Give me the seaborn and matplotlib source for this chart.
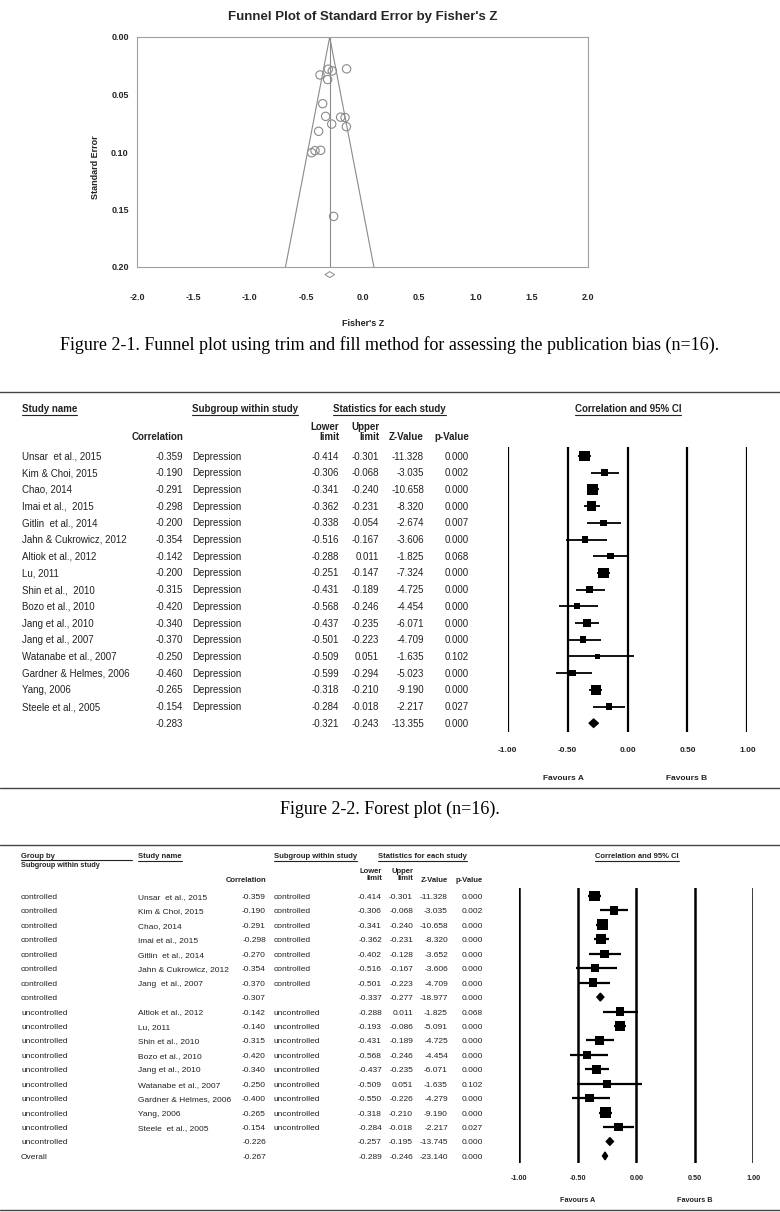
import numpy as np
import pandas as pd
import matplotlib
matplotlib.use('Agg')
import matplotlib.pyplot as plt
from matplotlib.lines import Line2D
import seaborn as sns

# ---------- данные: funnel plot ----------
fisher_z = [-0.303, -0.268, -0.141, -0.377, -0.309, -0.353, -0.327, -0.194,
            -0.155, -0.273, -0.143, -0.389, -0.421, -0.451, -0.371, -0.256]
std_err = [0.028, 0.0295, 0.0277, 0.033, 0.037, 0.058, 0.069, 0.0697,
           0.070, 0.0757, 0.078, 0.082, 0.0988, 0.1006, 0.0985, 0.156]
est_z = -0.291
est_z_lo = -0.333
est_z_hi = -0.248
se_max = 0.20

# ---------- данные: forest plot (n=16) ----------
studies = ["Unsar  et al., 2015", "Kim & Choi, 2015", "Chao, 2014", "Imai et al.,  2015",
           "Gitlin  et al., 2014", "Jahn & Cukrowicz, 2012", "Altiok et al., 2012", "Lu, 2011",
           "Shin et al.,  2010", "Bozo et al., 2010", "Jang et al., 2010", "Jang et al., 2007",
           "Watanabe et al., 2007", "Gardner & Helmes, 2006", "Yang, 2006", "Steele et al., 2005"]
corr = [-0.359, -0.190, -0.291, -0.298, -0.200, -0.354, -0.142, -0.200,
        -0.315, -0.420, -0.340, -0.370, -0.250, -0.460, -0.265, -0.154]
lower = [-0.414, -0.306, -0.341, -0.362, -0.338, -0.516, -0.288, -0.251,
         -0.431, -0.568, -0.437, -0.501, -0.509, -0.599, -0.318, -0.284]
upper = [-0.301, -0.068, -0.240, -0.231, -0.054, -0.167, 0.011, -0.147,
         -0.189, -0.246, -0.235, -0.223, 0.051, -0.294, -0.210, -0.018]
zval = [-11.328, -3.035, -10.658, -8.320, -2.674, -3.606, -1.825, -7.324,
        -4.725, -4.454, -6.071, -4.709, -1.635, -5.023, -9.190, -2.217]
pval = [0.000, 0.002, 0.000, 0.000, 0.007, 0.000, 0.068, 0.000,
        0.000, 0.000, 0.000, 0.000, 0.102, 0.000, 0.000, 0.027]
summ = dict(corr=-0.283, lower=-0.321, upper=-0.243, z=-13.355, p=0.000)

# ---------- данные: forest plot по подгруппам ----------
g_group = ['controlled'] * 8 + ['uncontrolled'] * 10 + ['Overall']
g_study = ["Unsar  et al., 2015", "Kim & Choi, 2015", "Chao, 2014", "Imai et al., 2015",
           "Gitlin  et al., 2014", "Jahn & Cukrowicz, 2012", "Jang  et al., 2007", "",
           "Altiok et al., 2012", "Lu, 2011", "Shin et al., 2010", "Bozo et al., 2010",
           "Jang et al., 2010", "Watanabe et al., 2007", "Gardner & Helmes, 2006",
           "Yang, 2006", "Steele  et al., 2005", "", ""]
g_sub = ['controlled'] * 7 + [''] + ['uncontrolled'] * 9 + ['', '']
g_corr = [-0.359, -0.190, -0.291, -0.298, -0.270, -0.354, -0.370, -0.307,
          -0.142, -0.140, -0.315, -0.420, -0.340, -0.250, -0.400, -0.265, -0.154, -0.226, -0.267]
g_lower = [-0.414, -0.306, -0.341, -0.362, -0.402, -0.516, -0.501, -0.337,
           -0.288, -0.193, -0.431, -0.568, -0.437, -0.509, -0.550, -0.318, -0.284, -0.257, -0.289]
g_upper = [-0.301, -0.068, -0.240, -0.231, -0.128, -0.167, -0.223, -0.277,
           0.011, -0.086, -0.189, -0.246, -0.235, 0.051, -0.226, -0.210, -0.018, -0.195, -0.246]
g_z = [-11.328, -3.035, -10.658, -8.320, -3.652, -3.606, -4.709, -18.977,
       -1.825, -5.091, -4.725, -4.454, -6.071, -1.635, -4.279, -9.190, -2.217, -13.745, -23.140]
g_p = [0.000, 0.002, 0.000, 0.000, 0.000, 0.000, 0.000, 0.000,
       0.068, 0.000, 0.000, 0.000, 0.000, 0.102, 0.000, 0.000, 0.027, 0.000, 0.000]

ci_ticks = [-1.0, -0.5, 0.0, 0.5, 1.0]

# ---------- оформление ----------
sns.set_style('white')
plt.rcParams['font.family'] = ['Liberation Sans', 'DejaVu Sans']
TXT = '#222222'
SERIF = ['Liberation Serif', 'DejaVu Serif']

W, H = 780, 1212
fig = plt.figure(figsize=(W / 100, H / 100), dpi=100)


def fx(x):
    return x / W


def fy(y):
    return 1 - y / H


def add_ax(l, t, r, b):
    return fig.add_axes([fx(l), fy(b), (r - l) / W, (b - t) / H])


def txt(x, y, s, **kw):
    # по умолчанию: y — середина заглавных букв (выравнивание по базовой линии)
    kw.setdefault('color', TXT)
    if 'va' not in kw:
        fs = kw.get('fontsize', 10)
        y = y + 0.36 * fs * 100 / 72
        kw['va'] = 'baseline'
    return fig.text(fx(x), fy(y), s, **kw)


def rule(y, x0=0, x1=W, lw=1.0, color='#444444'):
    fig.add_artist(Line2D([fx(x0), fx(x1)], [fy(y), fy(y)],
                          transform=fig.transFigure, color=color, lw=lw))


def underline(t, dy=1.5, lw=0.8):
    bb = t.get_window_extent(renderer=fig.canvas.get_renderer())
    y = bb.y0 - dy
    fig.add_artist(Line2D([bb.x0 / W, bb.x1 / W], [y / H, y / H],
                          transform=fig.transFigure, color=TXT, lw=lw))


# ================= 1. Funnel plot =================
ax = add_ax(137, 37, 588, 267)
sns.scatterplot(x=fisher_z, y=std_err, ax=ax, marker='o', s=36,
                facecolor='none', edgecolor='#8a8a8a', linewidth=0.8, legend=False)
ax.plot([est_z - 1.96 * se_max, est_z, est_z + 1.96 * se_max], [se_max, 0, se_max],
        color='#8a8a8a', lw=0.8)
ax.plot([est_z, est_z], [0, se_max], color='#8a8a8a', lw=0.8)
ax.fill([est_z_lo, est_z, est_z_hi, est_z], [0.2066, 0.2040, 0.2066, 0.2092],
        facecolor='white', edgecolor='#8a8a8a', lw=0.7, clip_on=False)
ax.set_xlim(-2, 2)
ax.set_ylim(se_max, 0)
xt = np.arange(-2, 2.01, 0.5)
ax.set_xticks(xt)
ax.set_xticklabels([f'{v:.1f}' for v in xt], fontsize=6.5, fontweight='bold')
yt = [0.0, 0.05, 0.10, 0.15, 0.20]
ax.set_yticks(yt)
ax.set_yticklabels([f'{v:.2f}' for v in yt], fontsize=6.5, fontweight='bold')
ax.tick_params(axis='x', direction='in', length=3, color='#999999', pad=19)
ax.tick_params(axis='y', length=0, pad=6)
for sp in ax.spines.values():
    sp.set_color('#a0a0a0')
    sp.set_linewidth(0.8)
ax.set_title("Funnel Plot of Standard Error by Fisher's Z", fontsize=9.5, fontweight='bold',
             family=['Liberation Sans Narrow', 'Liberation Sans'], pad=12)
txt(363, 323, "Fisher's Z", ha='center', va='center', fontsize=6.5, fontweight='bold')
txt(96, 167, 'Standard Error', ha='center', va='center', rotation=90, fontsize=6.5,
    fontweight='bold')

txt(390, 345, 'Figure 2-1. Funnel plot using trim and fill method for assessing the publication bias (n=16).',
    ha='center', va='center', fontsize=13, family=SERIF, color='black')

rule(392)

# ================= 2. Forest plot =================
fs2 = 7
underline(txt(22, 408, 'Study name', fontsize=fs2, fontweight='bold'))
underline(txt(192, 408, 'Subgroup within study', fontsize=fs2, fontweight='bold'))
underline(txt(333, 408, 'Statistics for each study', fontsize=fs2, fontweight='bold'))
underline(txt(628, 408, 'Correlation and 95% CI', ha='center', fontsize=fs2, fontweight='bold'))
txt(183, 437, 'Correlation', ha='right', fontsize=fs2, fontweight='bold')
txt(339, 432, 'Lower\nlimit', ha='right', va='center', fontsize=fs2, fontweight='bold',
    linespacing=1.0)
txt(379, 432, 'Upper\nlimit', ha='right', va='center', fontsize=fs2, fontweight='bold',
    linespacing=1.0)
txt(424, 437, 'Z-Value', ha='right', fontsize=fs2, fontweight='bold')
txt(469, 437, 'p-Value', ha='right', fontsize=fs2, fontweight='bold')

row0, dr = 456, 16.7
rows = np.arange(len(studies))
for i in rows:
    y = row0 + dr * i
    txt(22, y, studies[i], fontsize=fs2)
    txt(183, y, f'{corr[i]:.3f}', ha='right', fontsize=fs2)
    txt(192, y, 'Depression', fontsize=fs2)
    txt(339, y, f'{lower[i]:.3f}', ha='right', fontsize=fs2)
    txt(379, y, f'{upper[i]:.3f}', ha='right', fontsize=fs2)
    txt(424, y, f'{zval[i]:.3f}', ha='right', fontsize=fs2)
    txt(469, y, f'{pval[i]:.3f}', ha='right', fontsize=fs2)
ys = row0 + dr * len(studies)
txt(183, ys, f"{summ['corr']:.3f}", ha='right', fontsize=fs2)
txt(339, ys, f"{summ['lower']:.3f}", ha='right', fontsize=fs2)
txt(379, ys, f"{summ['upper']:.3f}", ha='right', fontsize=fs2)
txt(424, ys, f"{summ['z']:.3f}", ha='right', fontsize=fs2)
txt(469, ys, f"{summ['p']:.3f}", ha='right', fontsize=fs2)

ax2 = add_ax(507.7, 447, 747.3, 732)
top2 = (447 - row0) / dr
bot2 = (732 - row0) / dr
for v in ci_ticks:
    ax2.axvline(v, color='black', lw=1.6)
width2 = np.array(upper) - np.array(lower)
side2 = (4 + 0.7 / width2) * 0.72
ax2.hlines(rows, lower, upper, color='black', lw=1.3)
sns.scatterplot(x=corr, y=rows, ax=ax2, marker='s', s=side2 ** 2, color='black',
                edgecolor='black', linewidth=0, legend=False)
n2 = len(studies)
ax2.fill([summ['lower'], summ['corr'], summ['upper'], summ['corr']],
         [n2, n2 - 0.25, n2, n2 + 0.25], color='black')
ax2.set_xlim(-1, 1)
ax2.set_ylim(bot2, top2)
ax2.set_yticks([])
ax2.set_xticks(ci_ticks)
ax2.set_xticklabels([f'{v:.2f}' for v in ci_ticks], fontsize=6, fontweight='bold', color=TXT)
ax2.tick_params(axis='x', length=0, pad=11)
sns.despine(ax=ax2, left=True, bottom=True)
txt(563, 778, 'Favours A', ha='center', va='center', fontsize=6, fontweight='bold')
txt(687, 778, 'Favours B', ha='center', va='center', fontsize=6, fontweight='bold')

rule(788)
txt(390, 809, 'Figure 2-2. Forest plot (n=16).', ha='center', va='center', fontsize=13,
    family=SERIF, color='black')
rule(845)

# ================= 3. Forest plot по подгруппам =================
fs3 = 5.5
fb3 = 6.0
txt(21, 855, 'Group by', fontsize=fs3, fontweight='bold')
rule(859.5, 21, 132, lw=0.8, color=TXT)
txt(21, 864, 'Subgroup within study', fontsize=5.2, fontweight='bold')
underline(txt(138, 855, 'Study name', fontsize=fs3, fontweight='bold'))
underline(txt(274, 855, 'Subgroup within study', fontsize=fs3, fontweight='bold'))
underline(txt(378, 855, 'Statistics for each study', fontsize=fs3, fontweight='bold'))
underline(txt(637, 855, 'Correlation and 95% CI', ha='center', fontsize=fs3, fontweight='bold'))
txt(266, 879, 'Correlation', ha='right', fontsize=fs3, fontweight='bold')
txt(382, 875, 'Lower\nlimit', ha='right', va='center', fontsize=fs3, fontweight='bold',
    linespacing=1.0)
txt(413, 875, 'Upper\nlimit', ha='right', va='center', fontsize=fs3, fontweight='bold',
    linespacing=1.0)
txt(448, 879, 'Z-Value', ha='right', fontsize=fs3, fontweight='bold')
txt(483, 879, 'p-Value', ha='right', fontsize=fs3, fontweight='bold')

grow0, gdr = 896, 14.44
grows = np.arange(len(g_group))
for i in grows:
    y = grow0 + gdr * i
    txt(21, y, g_group[i], fontsize=fb3)
    txt(138, y, g_study[i], fontsize=fb3)
    txt(266, y, f'{g_corr[i]:.3f}', ha='right', fontsize=fb3)
    txt(274, y, g_sub[i], fontsize=fb3)
    txt(382, y, f'{g_lower[i]:.3f}', ha='right', fontsize=fb3)
    txt(413, y, f'{g_upper[i]:.3f}', ha='right', fontsize=fb3)
    txt(448, y, f'{g_z[i]:.3f}', ha='right', fontsize=fb3)
    txt(483, y, f'{g_p[i]:.3f}', ha='right', fontsize=fb3)

ax3 = add_ax(519.3, 888, 753.3, 1163)
top3 = (888 - grow0) / gdr
bot3 = (1163 - grow0) / gdr
for v in ci_ticks:
    ax3.axvline(v, color='black', lw=1.8)
df3 = pd.DataFrame(dict(row=grows, corr=g_corr, lower=g_lower, upper=g_upper, study=g_study))
is_sum = df3['study'] == ''
st = df3[~is_sum]
side3 = (7 + 0.4 / (st['upper'] - st['lower'])) * 0.72
ax3.hlines(st['row'], st['lower'], st['upper'], color='black', lw=1.6)
sns.scatterplot(data=st, x='corr', y='row', ax=ax3, marker='s', s=side3 ** 2, color='black',
                edgecolor='black', linewidth=0, legend=False)
for _, r in df3[is_sum].iterrows():
    ax3.fill([r['lower'], r['corr'], r['upper'], r['corr']],
             [r['row'], r['row'] - 0.27, r['row'], r['row'] + 0.27], color='black')
ax3.set_xlim(-1, 1)
ax3.set_ylim(bot3, top3)
ax3.set_yticks([])
ax3.set_xticks(ci_ticks)
ax3.set_xticklabels([f'{v:.2f}' for v in ci_ticks], fontsize=5.2, fontweight='bold', color=TXT)
ax3.tick_params(axis='x', length=0, pad=9)
ax3.set_xlabel('')
ax3.set_ylabel('')
sns.despine(ax=ax3, left=True, bottom=True)
txt(578, 1200, 'Favours A', ha='center', va='center', fontsize=5.2, fontweight='bold')
txt(695, 1200, 'Favours B', ha='center', va='center', fontsize=5.2, fontweight='bold')

rule(1210)

fig.savefig('out.png', dpi=100)
